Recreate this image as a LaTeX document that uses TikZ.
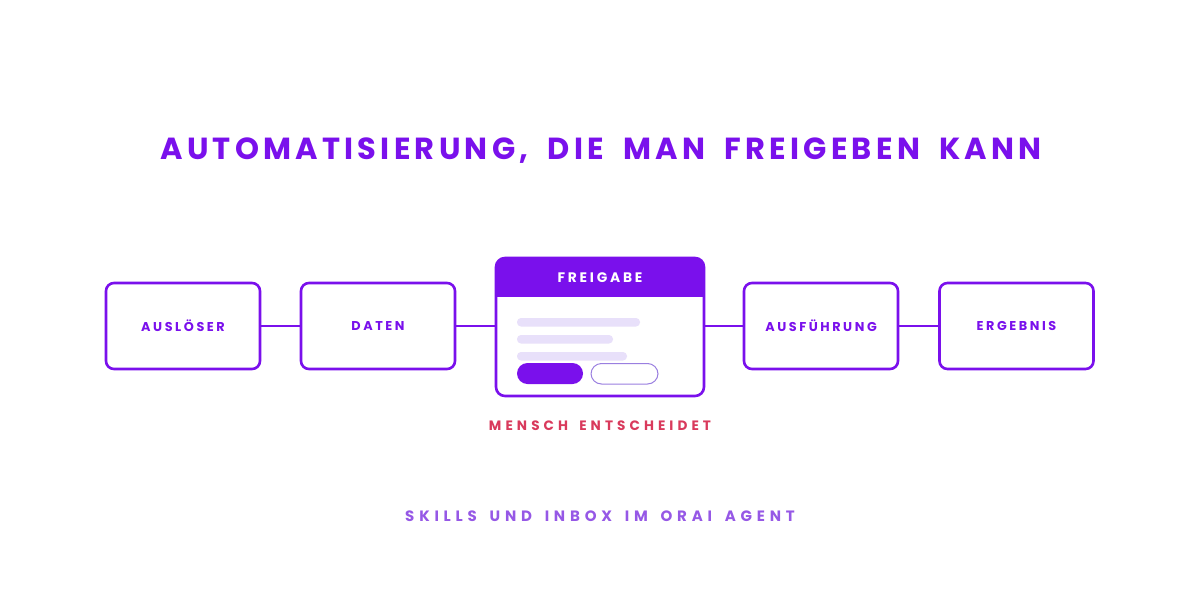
\documentclass[tikz,border=0pt]{standalone}
\usepackage{fontspec}
\setmainfont{Poppins}
\newfontfamily\titlefont[LetterSpace=14,WordSpace=1.8]{Poppins}
\newfontfamily\lblfont[LetterSpace=20,WordSpace=1.5]{Poppins}
\newfontfamily\subfont[LetterSpace=30,WordSpace=1.6]{Poppins}
\newfontfamily\footfont[LetterSpace=32,WordSpace=1.6]{Poppins}
\definecolor{pmain}{HTML}{7A10EC}
\definecolor{plight}{HTML}{E8E0FA}
\definecolor{pred}{HTML}{D93A5C}
\definecolor{pfoot}{HTML}{9658E6}
\definecolor{pout}{HTML}{9A7FE0}
\tikzset{
  stage/.style={draw=pmain, line width=2.6pt, rounded corners=8pt, minimum width=154pt, minimum height=86pt, inner sep=0pt, fill=white},
  lbl/.style={text=pmain, font=\lblfont\bfseries\fontsize{12.8}{14}\selectfont},
  link/.style={draw=pmain, line width=2.6pt},
  bar/.style={fill=plight, rounded corners=4pt},
}
\begin{document}
\begin{tikzpicture}[x=1pt,y=-1pt]
\useasboundingbox (0,0) rectangle (1200,600);
\fill[white] (0,0) rectangle (1200,600);
\node[text=pmain, font=\titlefont\bfseries\fontsize{30.5}{34}\selectfont] (title) at (601,151) {AUTOMATISIERUNG, DIE MAN FREIGEBEN KANN};
\node[stage] (a) at (183,326) {};
\node[lbl] at (a) {AUSLÖSER};
\node[stage] (b) at (378,326) {};
\node[lbl] at (b) {DATEN};
\node[stage] (d) at (821,326) {};
\node[lbl] at (d) {AUSFÜHRUNG};
\node[stage] (e) at (1016.5,326) {};
\node[lbl] at (e) {ERGEBNIS};
% Freigabe panel
\fill[pmain, rounded corners=9pt] (496,258) rectangle (704,310);
\fill[white] (497.3,297) rectangle (702.7,312);
\node[draw=pmain, line width=2.6pt, rounded corners=9pt, minimum width=208pt, minimum height=138pt, inner sep=0pt] (c) at (600,327) {};
\node[text=white, font=\lblfont\bfseries\fontsize{13.8}{15}\selectfont] (ch) at (600,278) {FREIGABE};
\fill[bar] (517,318) rectangle (640,326.5);
\fill[bar] (517,335) rectangle (613,343.5);
\fill[bar] (517,352) rectangle (627,360.5);
\fill[pmain, rounded corners=10.5pt] (517,363) rectangle (583,384);
\draw[pout, line width=1pt, rounded corners=10.5pt] (591,363.5) rectangle (658,384);
\draw[link] (a.east) -- (b.west);
\draw[link] (b.east) -- (b.east -| c.west);
\draw[link] (d.west -| c.east) -- (d.west);
\draw[link] (d.east) -- (e.west);
\node[text=pred, font=\subfont\bfseries\fontsize{13.6}{15}\selectfont] (m) at (600,426) {MENSCH ENTSCHEIDET};
\node[text=pfoot, font=\footfont\bfseries\fontsize{15}{16}\selectfont] (f) at (600,516) {SKILLS UND INBOX IM ORAI AGENT};
\end{tikzpicture}
\end{document}
